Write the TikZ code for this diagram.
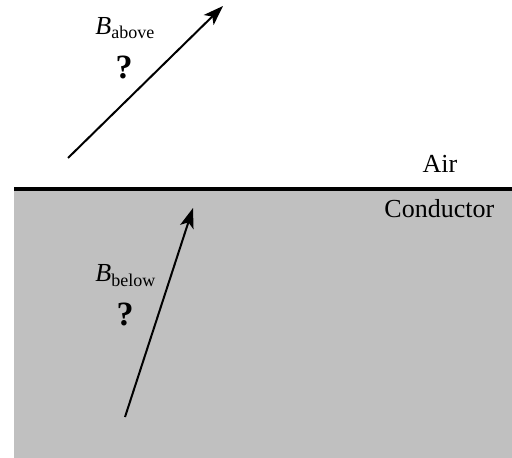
\documentclass[tikz,border=0pt]{standalone}
\usepackage{fontspec}
\setmainfont{Liberation Serif}
\usetikzlibrary{arrows.meta}
\definecolor{condgray}{RGB}{192,192,192}
\newcommand{\fieldlbl}[1]{\textit{B}\raisebox{-2pt}{\fontsize{9}{11}\selectfont #1}}
\tikzset{
  fieldarrow/.style={line width=1pt,-{Stealth[length=10pt,width=7pt,inset=2.5pt]}},
  lbl/.style={inner sep=0pt,font=\fontsize{13}{15}\selectfont},
  blbl/.style={inner sep=0pt,font=\fontsize{13}{15}\selectfont},
  qmark/.style={inner sep=0pt,font=\fontsize{17}{19}\selectfont\bfseries}
}
\begin{document}
\begin{tikzpicture}[x=0.5pt,y=-0.5pt]
\useasboundingbox (0,0) rectangle (512,458);
\fill[condgray] (14,189) rectangle (512,458);
\coordinate (il) at (14,189);
\coordinate (ir) at (512,189);
\draw[line width=2.2pt] (il) -- (ir);
\coordinate (a1) at (68,158);
\coordinate (a2) at (223,6);
\draw[fieldarrow] (a1) -- (a2);
\coordinate (b1) at (125,417);
\coordinate (b2) at (193,208);
\draw[fieldarrow] (b1) -- (b2);
\node[blbl,anchor=base west] (ba) at (95,35) {\fieldlbl{above}};
\node[qmark,anchor=base] (qa) at (124,79) {?};
\node[blbl,anchor=base west] (bb) at (95,282) {\fieldlbl{below}};
\node[qmark,anchor=base] (qb) at (125,325) {?};
\node[lbl,anchor=base] (air) at (440,173) {Air};
\node[lbl,anchor=base west] (cond) at (384,218) {Conductor};
\end{tikzpicture}
\end{document}
